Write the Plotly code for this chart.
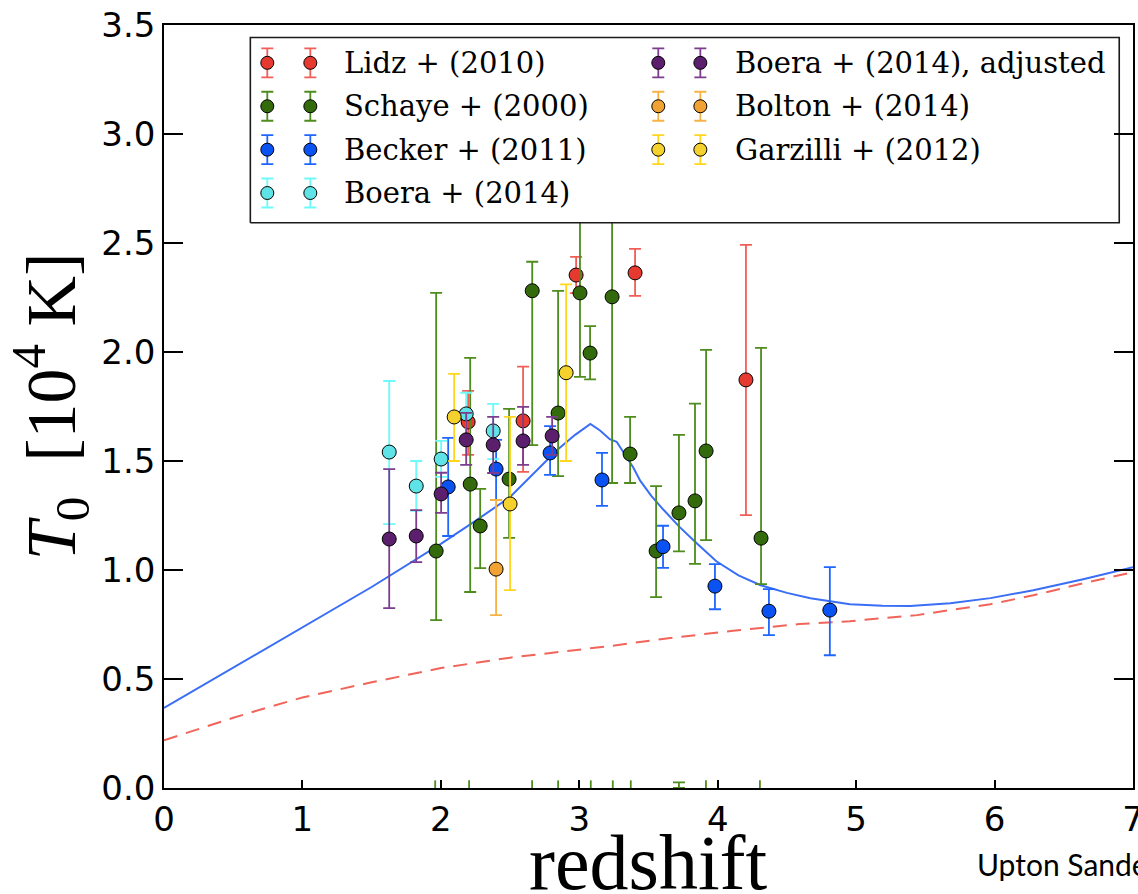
import plotly.graph_objects as go

# ---- model curves: IGM temperature at mean density vs redshift ----
model_z = [0.0, 0.5, 1.0, 1.5, 2.0, 2.25, 2.5, 2.7, 2.84, 2.97, 3.08, 3.15, 3.22, 3.27,
           3.33, 3.39, 3.44, 3.52, 3.61, 3.72, 3.85, 3.99, 4.15, 4.31, 4.5, 4.67,
           4.955, 5.19, 5.39, 5.68, 5.97, 6.28, 6.64, 7.0]
model_T = [0.367, 0.552, 0.737, 0.922, 1.12, 1.225, 1.335, 1.46, 1.55, 1.62, 1.67, 1.64, 1.60, 1.588,
           1.53, 1.47, 1.41, 1.34, 1.275, 1.20, 1.122, 1.04, 0.975, 0.93, 0.895, 0.87,
           0.843, 0.836, 0.835, 0.848, 0.871, 0.907, 0.958, 1.013]

floor_z = [0.0, 0.25, 0.5, 0.75, 1.0, 1.5, 2.0, 2.5, 3.0, 3.22, 3.63, 4.11, 4.59,
           4.955, 5.19, 5.44, 5.68, 5.97, 6.28, 6.64, 7.0]
floor_T = [0.219, 0.272, 0.322, 0.370, 0.415, 0.485, 0.550, 0.598, 0.635, 0.651, 0.686,
           0.721, 0.752, 0.765, 0.779, 0.793, 0.816, 0.843, 0.884, 0.939, 0.99]

# ---- measurements (T0 in 1e4 K, asymmetric errors) ----
lidz_z = [2.197, 2.594, 2.977, 3.403, 4.204]
lidz_T = [1.679, 1.684, 2.353, 2.363, 1.872]
lidz_hi = [0.143, 0.249, 0.083, 0.110, 0.619]
lidz_lo = [0.151, 0.234, 0.083, 0.106, 0.620]

schaye_z = [1.966, 2.212, 2.284, 2.493, 2.66, 2.847, 3.005, 3.078, 3.237, 3.367, 3.555,
            3.72, 3.836, 3.916, 4.313]
schaye_T = [1.087, 1.394, 1.202, 1.417, 2.281, 1.720, 2.271, 1.995, 2.253, 1.532, 1.087,
            1.262, 1.317, 1.546, 1.146]
schaye_hi = [1.184, 0.579, 0.170, 0.322, 0.133, 0.560, 0.679, 0.124, 0.697, 0.170, 0.298,
             0.358, 0.446, 0.464, 0.873]
schaye_lo = [0.317, 0.495, 0.193, 0.270, 0.708, 0.289, 0.385, 0.121, 0.854, 0.133, 0.211,
             0.177, 0.289, 0.409, 0.211]

# short Schaye bars rising from the axis floor
schaye_floor_z = [1.959, 2.204, 2.659, 2.847, 3.083, 3.242, 3.372, 3.915, 4.305]
schaye_floor_len = [0.035, 0.035, 0.035, 0.035, 0.035, 0.035, 0.035, 0.035, 0.035]
schaye_capped_z = [3.72]
schaye_capped_len = [0.026]

becker_z = [2.053, 2.399, 2.789, 3.164, 3.605, 3.98, 4.37, 4.81]
becker_T = [1.381, 1.463, 1.537, 1.413, 1.107, 0.926, 0.811, 0.816]
becker_hi = [0.225, 0.134, 0.123, 0.124, 0.096, 0.101, 0.101, 0.197]
becker_lo = [0.225, 0.142, 0.101, 0.119, 0.097, 0.106, 0.110, 0.207]

boera_z = [1.627, 1.822, 2.002, 2.183, 2.378]
boera_T = [1.541, 1.385, 1.509, 1.716, 1.638]
boera_hi = [0.326, 0.115, 0.083, 0.097, 0.124]
boera_lo = [0.331, 0.114, 0.082, 0.105, 0.129]

boera_adj_z = [1.627, 1.822, 2.002, 2.183, 2.378, 2.594, 2.804]
boera_adj_T = [1.142, 1.156, 1.349, 1.597, 1.574, 1.592, 1.615]
boera_adj_hi = [0.321, 0.119, 0.097, 0.124, 0.128, 0.156, 0.087]
boera_adj_lo = [0.317, 0.120, 0.087, 0.115, 0.129, 0.110, 0.087]

bolton_z = [2.399]
bolton_T = [1.004]
bolton_hi = [0.317]
bolton_lo = [0.211]

garzilli_z = [2.096, 2.50, 2.905]
garzilli_T = [1.702, 1.303, 1.905]
garzilli_hi = [0.198, 0.399, 0.405]
garzilli_lo = [0.202, 0.395, 0.405]

x_ticks = [0, 1, 2, 3, 4, 5, 6, 7]
y_ticks = [0.0, 0.5, 1.0, 1.5, 2.0, 2.5, 3.0, 3.5]

# name, z, T, err+, err-, marker fill, bar colour, legend column, legend row
series = [
    ("Lidz + (2010)", lidz_z, lidz_T, lidz_hi, lidz_lo, "#e63a30", "#f25e56", 0, 0),
    ("Schaye + (2000)", schaye_z, schaye_T, schaye_hi, schaye_lo, "#336b0c", "#4e8c1e", 0, 1),
    ("Becker + (2011)", becker_z, becker_T, becker_hi, becker_lo, "#0b52f2", "#1f66ff", 0, 2),
    ("Boera + (2014)", boera_z, boera_T, boera_hi, boera_lo, "#5fe3e6", "#6cfafa", 0, 3),
    ("Boera + (2014), adjusted", boera_adj_z, boera_adj_T, boera_adj_hi, boera_adj_lo,
     "#5c1f6e", "#7c3d8e", 1, 0),
    ("Bolton + (2014)", bolton_z, bolton_T, bolton_hi, bolton_lo, "#f0a232", "#f7b244", 1, 1),
    ("Garzilli + (2012)", garzilli_z, garzilli_T, garzilli_hi, garzilli_lo, "#f4d12c", "#ffd51e", 1, 2),
]

fig = go.Figure()

fig.add_trace(go.Scatter(x=model_z, y=model_T, mode="lines",
                         line=dict(color="#3a6ef5", width=2), showlegend=False, hoverinfo="skip"))
fig.add_trace(go.Scatter(x=floor_z, y=floor_T, mode="lines",
                         line=dict(color="#f0645a", width=2, dash="14px,9px"),
                         showlegend=False, hoverinfo="skip"))

# floor bars
fig.add_trace(go.Scatter(
    x=schaye_floor_z, y=[0.0] * len(schaye_floor_z), mode="markers",
    marker=dict(size=1, opacity=0),
    error_y=dict(type="data", symmetric=False, array=schaye_floor_len,
                 arrayminus=[0.0] * len(schaye_floor_z), color="#4e8c1e", thickness=1.8, width=0),
    showlegend=False, hoverinfo="skip"))
fig.add_trace(go.Scatter(
    x=schaye_capped_z, y=[0.0] * len(schaye_capped_z), mode="markers",
    marker=dict(size=1, opacity=0),
    error_y=dict(type="data", symmetric=False, array=schaye_capped_len,
                 arrayminus=[0.0] * len(schaye_capped_z), color="#4e8c1e", thickness=1.8, width=6),
    showlegend=False, hoverinfo="skip"))

for name, z, T, hi, lo, fill, bar, _, _ in series:
    fig.add_trace(go.Scatter(
        x=z, y=T, mode="markers", name=name,
        marker=dict(size=14, color=fill, line=dict(color="black", width=1)),
        error_y=dict(type="data", symmetric=False, array=hi, arrayminus=lo,
                     color=bar, thickness=1.8, width=6),
        showlegend=False))

# ---- legend panel on an overlay axis spanning the plot area (0..1 both ways) ----
leg_left, leg_right, leg_bottom, leg_top = 0.0891, 0.9858, 0.7409, 0.9836
row_y = [0.9504, 0.8935, 0.8366, 0.7798]
glyph_x = [[0.1066, 0.1510], [0.5101, 0.5535]]
text_x = [0.184, 0.5875]
glyph_err = 0.019

fig.add_trace(go.Scatter(
    x=[leg_left, leg_right, leg_right, leg_left, leg_left],
    y=[leg_bottom, leg_bottom, leg_top, leg_top, leg_bottom],
    xaxis="x2", yaxis="y2", mode="lines", fill="toself", fillcolor="white",
    line=dict(color="#1a1a1a", width=1.6), showlegend=False, hoverinfo="skip"))

for name, z, T, hi, lo, fill, bar, col, row in series:
    gx = glyph_x[col]
    fig.add_trace(go.Scatter(
        x=gx, y=[row_y[row]] * len(gx), xaxis="x2", yaxis="y2", mode="markers",
        marker=dict(size=13, color=fill, line=dict(color="black", width=1)),
        error_y=dict(type="data", array=[glyph_err] * len(gx), color=bar, thickness=1.8, width=6),
        showlegend=False, hoverinfo="skip"))
    fig.add_annotation(x=text_x[col], y=row_y[row], xref="paper", yref="paper",
                       text=name, showarrow=False, xanchor="left", yanchor="middle",
                       font=dict(family="DejaVu Serif", size=29, color="black"))

axis_common = dict(showgrid=False, zeroline=False, showline=True, linecolor="black",
                   linewidth=1.5, tickcolor="black", tickwidth=1.5, automargin=False,
                   tickfont=dict(family="DejaVu Sans", size=34, color="black"))

fig.update_layout(
    width=1138, height=894,
    margin=dict(l=164, r=5, t=25, b=106, autoexpand=False),
    paper_bgcolor="white", plot_bgcolor="white",
    showlegend=False,
    xaxis=dict(range=[0, 7], tickvals=x_ticks, ticktext=[str(v) for v in x_ticks],
               ticks="inside", ticklen=8, mirror=True, ticklabeloverflow="allow", **axis_common),
    yaxis=dict(range=[0, 3.5], tickvals=y_ticks, ticktext=["%.1f" % v for v in y_ticks],
               ticks="inside", ticklen=19, mirror="ticks", **axis_common),
    xaxis2=dict(overlaying="x", anchor="y2", range=[0, 1], visible=False, fixedrange=True),
    yaxis2=dict(overlaying="y", anchor="x2", range=[0, 1], visible=False, fixedrange=True),
)

fig.add_annotation(x=0.5, y=-0.097, xref="paper", yref="paper", text="redshift",
                   showarrow=False, xanchor="center", yanchor="middle",
                   font=dict(family="Liberation Serif", size=78, color="black"))
fig.add_annotation(x=-0.117, y=0.5, xref="paper", yref="paper",
                   text="<i>T</i><sub>0</sub>  [10<sup>4</sup> K]", textangle=-90,
                   showarrow=False, xanchor="center", yanchor="middle",
                   font=dict(family="Liberation Serif", size=70, color="black"))
fig.add_annotation(x=0.8373, y=-0.099, xref="paper", yref="paper", text="Upton Sanderbeck",
                   showarrow=False, xanchor="left", yanchor="middle",
                   font=dict(family="Lato", size=30, color="black"))

fig.write_html("out.html")
